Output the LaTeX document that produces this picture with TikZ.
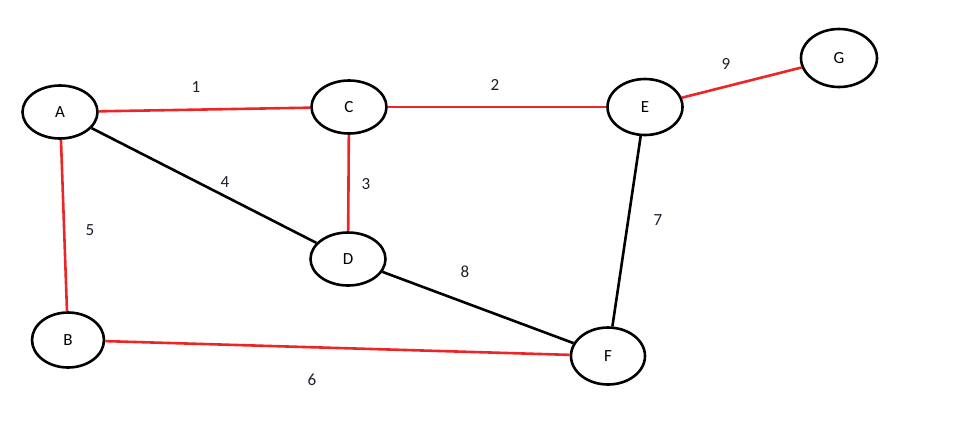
\documentclass[tikz,border=0pt]{standalone}
\usepackage{fontspec}
\setmainfont{Carlito}
\usetikzlibrary{shapes.geometric}
\definecolor{edgered}{RGB}{236,38,38}
\definecolor{labelink}{RGB}{30,30,45}
\begin{document}
\begin{tikzpicture}[x=1pt,y=-1pt,
  vertex/.style={ellipse, draw=black, line width=2.6pt, inner sep=0pt,
    minimum width=75pt, minimum height=53pt, font=\fontsize{17}{20}\selectfont},
  redge/.style={draw=edgered, line width=2.6pt},
  bedge/.style={draw=black, line width=2.6pt},
  wlabel/.style={text=labelink, font=\fontsize{17}{20}\selectfont, inner sep=0pt}]
\useasboundingbox[fill=white] (0,0) rectangle (955,440);
\node[vertex] (A) at (60,112) {A};
\node[vertex] (C) at (349,107) {C};
\node[vertex, minimum height=56pt] (E) at (645,107) {E};
\node[vertex, minimum width=76pt, minimum height=58pt] (G) at (839,58) {G};
\node[vertex] (D) at (348,259) {D};
\node[vertex, minimum width=72pt, minimum height=55pt] (B) at (68,340) {B};
\node[vertex, minimum width=74pt, minimum height=57pt] (F) at (608,356) {F};
\draw[redge] (A) -- (C);
\draw[redge] (C) -- (E);
\draw[redge] (E) -- (G);
\draw[redge] (C) -- (D);
\draw[redge] (A) -- (B);
\draw[redge] (B) -- (F);
\draw[bedge] (A) -- (D);
\draw[bedge] (D) -- (F);
\draw[bedge] (E) -- (F);
\node[wlabel] (l1) at (196,87) {1};
\node[wlabel] (l2) at (495,85) {2};
\node[wlabel] (l3) at (366,184) {3};
\node[wlabel] (l4) at (225,182) {4};
\node[wlabel] (l5) at (90,230) {5};
\node[wlabel] (l6) at (312,380) {6};
\node[wlabel] (l7) at (658,220) {7};
\node[wlabel] (l8) at (465,272) {8};
\node[wlabel] (l9) at (726,64) {9};
\end{tikzpicture}
\end{document}
